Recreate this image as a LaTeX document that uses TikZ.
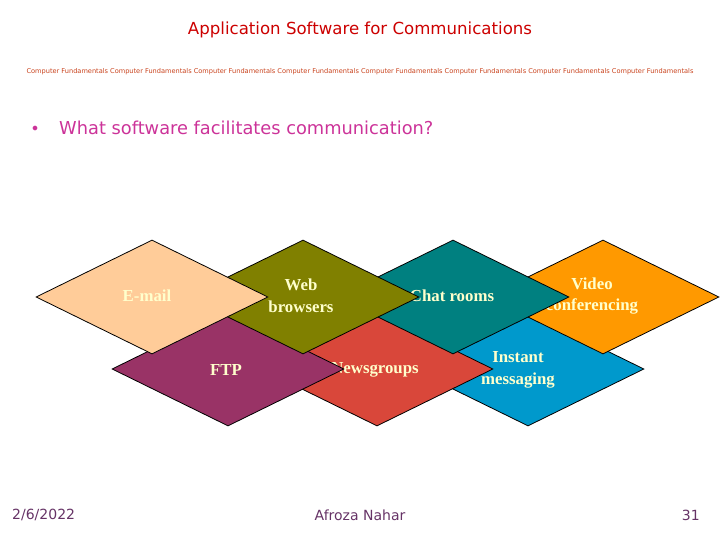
\documentclass[tikz,border=0pt]{standalone}
\usepackage{fontspec}
\setmainfont{Liberation Serif}
\newfontfamily\dejavu{DejaVu Sans}
\usetikzlibrary{shapes.geometric}
\definecolor{peach}{HTML}{FFCC99}
\definecolor{oliveg}{HTML}{808000}
\definecolor{tealg}{HTML}{008080}
\definecolor{orangeg}{HTML}{FF9900}
\definecolor{plum}{HTML}{993366}
\definecolor{brick}{HTML}{D9473A}
\definecolor{skyb}{HTML}{0099CC}
\definecolor{cream}{HTML}{FFFFCC}
\definecolor{titlered}{HTML}{CC0000}
\definecolor{smallred}{HTML}{C8401A}
\definecolor{pinkq}{HTML}{CC3399}
\definecolor{footp}{HTML}{663366}
\tikzset{
  dia/.style={diamond, draw=black, line width=0.8pt, inner sep=0pt,
    minimum width=232pt, minimum height=114pt, shape aspect=2},
  lab/.style={text=cream, font=\fontsize{16.8}{21.5}\selectfont\bfseries, align=center, inner sep=0pt},
  foot/.style={text=footp, font=\dejavu\fontsize{14}{16}\selectfont, inner sep=0pt}
}
\begin{document}
\begin{tikzpicture}[x=1pt,y=-1pt]
\useasboundingbox (0,0) rectangle (720,540);
% title
\node[text=titlered, font=\dejavu\fontsize{16.6}{19}\selectfont, inner sep=0pt] (title) at (360,30) {Application Software for Communications};
\node[text=smallred, font=\dejavu\fontsize{6.6}{8}\selectfont, inner sep=0pt] (sub) at (360,72) {Computer Fundamentals Computer Fundamentals Computer Fundamentals Computer Fundamentals Computer Fundamentals Computer Fundamentals Computer Fundamentals Computer Fundamentals};
\node[text=pinkq, font=\dejavu\fontsize{12}{14}\selectfont, inner sep=0pt] (bul) at (35,129) {$\bullet$};
\node[text=pinkq, font=\dejavu\fontsize{17.8}{20}\selectfont, anchor=west, inner sep=0pt] (q) at (59,128) {What software facilitates communication?};
% bottom row
\node[dia, fill=skyb] (im) at (528,369) {};
\node[lab] (imt) at (518,370) {Instant\\messaging};
\node[dia, fill=brick] (ng) at (377,369) {};
\node[lab] (ngt) at (375,370) {Newsgroups};
\node[dia, fill=plum] (ftp) at (228,369) {};
\node[lab] (ftpt) at (226,370) {FTP};
% top row
\node[dia, fill=orangeg] (vc) at (603,297) {};
\node[lab] (vct) at (592,296) {Video\\conferencing};
\node[dia, fill=tealg] (cr) at (453,297) {};
\node[lab] (crt) at (452,296) {Chat rooms};
\node[dia, fill=oliveg] (wb) at (303,297) {};
\node[lab] (wbt) at (301,296) {Web\\browsers};
\node[dia, fill=peach] (em) at (152,297) {};
\node[lab] (emt) at (147,296) {E-mail};
% footer
\node[foot, anchor=west] (date) at (12,515) {2/6/2022};
\node[foot] (auth) at (360,515) {Afroza Nahar};
\node[foot, anchor=east] (pg) at (700,515) {31};
\end{tikzpicture}
\end{document}
